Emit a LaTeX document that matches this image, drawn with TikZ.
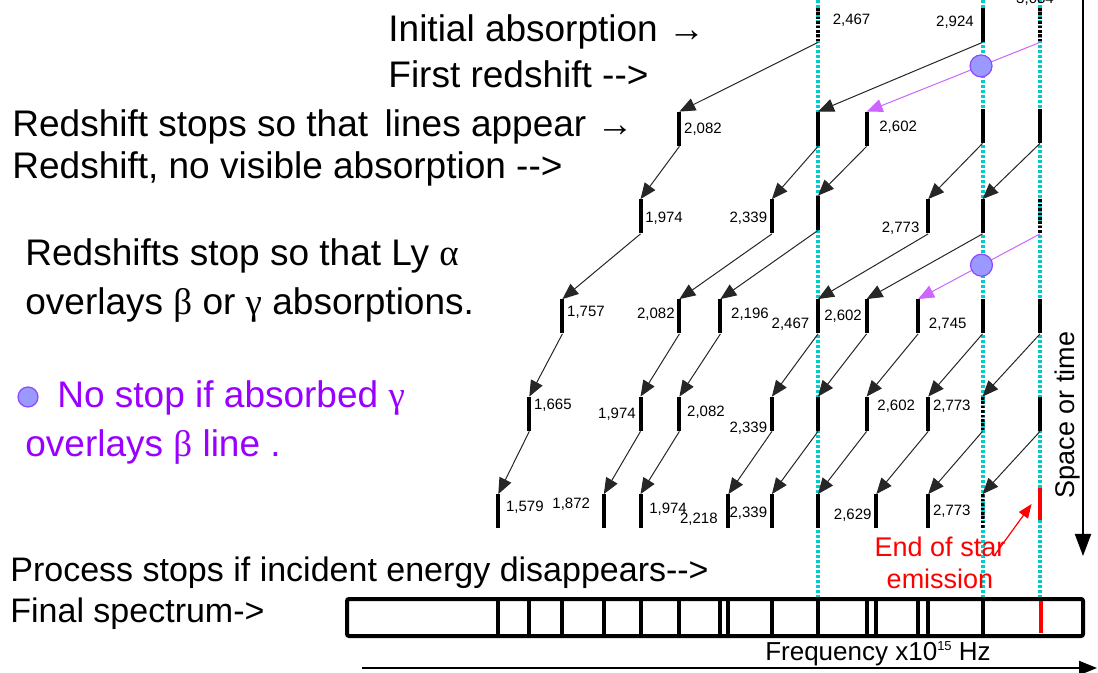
\documentclass[tikz,border=0pt]{standalone}
\usepackage{fontspec}
\setmainfont{Liberation Sans}
\newfontfamily\grk{Liberation Serif}
\usetikzlibrary{arrows.meta}

\definecolor{lycyan}{RGB}{0,204,204}
\definecolor{nostop}{RGB}{153,0,255}
\definecolor{shiftpurple}{RGB}{204,102,255}
\definecolor{dotblue}{RGB}{153,153,255}

\tikzset{
  bar/.style={fill=black, inner sep=0pt, minimum width=2pt, minimum height=17pt},
  dbar/.style={inner sep=0pt, minimum width=2pt, minimum height=17pt,
    path picture={\foreach \k in {0,...,7}
      \fill[black] ([yshift=-\k*2.2pt]path picture bounding box.north west) rectangle ++(2pt,-1.3pt);}},
  lbl/.style={font=\fontsize{7.5}{9}\selectfont, inner sep=1pt},
  txt/.style={font=\fontsize{18.5}{22}\selectfont, anchor=west, inner sep=0pt},
  zshift/.style={draw=black!85, line width=0.5pt, -{Triangle[length=8pt, width=6.5pt]}},
  pshift/.style={zshift, draw=shiftpurple, -{Triangle[length=8pt, width=6.5pt, fill=shiftpurple]}},
  gdot/.style={circle, fill=dotblue, draw=shiftpurple!70!blue, line width=0.6pt, minimum size=11pt, inner sep=0pt},
  lyline/.style={lycyan, line width=2pt, dash pattern=on 1.5pt off 1pt},
  specline/.style={line width=2pt}
}

\begin{document}
\begin{tikzpicture}[x=0.5pt, y=-0.5pt]
  \useasboundingbox (0,0) rectangle (1098,673);

  % Lyman alpha, beta, gamma
  \foreach \x in {818, 982.5, 1040}
    \draw[lyline] (\x,0) -- (\x,597);

  % texts on the left
  \node[txt] (tInit) at (388,32) {Initial absorption →};
  \node[txt] (tFirst) at (388,74) {First redshift -\kern0pt->};
  \node[txt] (tStops) at (12,127) {Redshift stops so that\ \kern-2pt\ lines appear →};
  \node[txt] (tNoAbs) at (12,169) {Redshift, no visible absorption -\kern0pt->};
  \node[txt] (tLy1) at (25,256) {Redshifts stop so that Ly {\grk α}};
  \node[txt] (tLy2) at (25,305) {overlays {\grk β} or {\grk γ} absorptions.};
  \node[gdot, minimum size=10pt] (legdot) at (28,397) {};
  \node[txt, text=nostop] (tNo1) at (57,398) {No stop if absorbed {\grk γ}};
  \node[txt, text=nostop] (tNo2) at (25,447) {overlays {\grk β} line .};
  \node[txt, font=\fontsize{17}{20}\selectfont] (tProc) at (10,573) {Process stops if incident energy disappears-\kern0pt->};
  \node[txt, font=\fontsize{17}{20}\selectfont] (tFinal) at (10,614) {Final spectrum->};

  % row 0
  \node[dbar, label={[lbl, xshift=5pt, yshift=2.5pt]right:{2,467}}] (r0a) at (818,25) {};
  \node[bar, label={[lbl, xshift=-2pt, yshift=1.5pt]left:{2,924}}] (r0b) at (982.5,25) {};
  \node[dbar, label={[lbl, xshift=-2.5pt]above:{3,084}}] (r0g) at (1040,25) {};

  % row 1
  \node[bar, label={[lbl]right:{2,082}}] (r1-2082) at (679.4,129) {};
  \node[bar] (r1a) at (818,129) {};
  \node[bar, label={[lbl, xshift=4pt, yshift=1pt]right:{2,602}}] (r1-2602) at (866.6,129) {};
  \node[bar] (r1b) at (982.5,126) {};
  \node[bar] (r1g) at (1040,126) {};

  % row 2
  \node[bar, label={[lbl, yshift=-1pt]right:{1,974}}] (r2-1974) at (640.5,216.5) {};
  \node[bar, label={[lbl, yshift=-1pt]left:{2,339}}] (r2-2339) at (771.9,216.5) {};
  \node[bar] (r2a) at (818,213) {};
  \node[bar, label={[lbl, xshift=-2pt, yshift=-6pt]left:{2,773}}] (r2-2773) at (928.2,216.5) {};
  \node[bar] (r2b) at (982.5,216.5) {};
  \node[dbar] (r2g) at (1040,216.5) {};

  % row 3
  \node[bar, label={[lbl, yshift=2pt]right:{1,757}}] (r3-1757) at (562.4,316.5) {};
  \node[bar, label={[lbl, yshift=1pt]left:{2,082}}] (r3-2082) at (679.4,316.5) {};
  \node[bar, label={[lbl, xshift=3pt, yshift=1pt]right:{2,196}}] (r3-2196) at (720.4,316.5) {};
  \node[bar, label={[lbl, xshift=-2pt, yshift=-4pt]left:{2,467}}] (r3a) at (818,316.5) {};
  \node[bar, label={[lbl]left:{2,602}}] (r3-2602) at (866.6,316.5) {};
  \node[bar, label={[lbl, xshift=3pt, yshift=-4pt]right:{2,745}}] (r3-2745) at (918.1,316.5) {};
  \node[bar] (r3b) at (982.5,316.5) {};
  \node[bar] (r3g) at (1040,316.5) {};

  % row 4
  \node[bar, label={[lbl, yshift=4.5pt]right:{1,665}}] (r4-1665) at (529.3,414) {};
  \node[bar, label={[lbl]left:{1,974}}] (r4-1974) at (640.5,414) {};
  \node[bar, label={[lbl, xshift=1.5pt, yshift=1pt]right:{2,082}}] (r4-2082) at (679.4,414) {};
  \node[bar, label={[lbl, yshift=-7pt]left:{2,339}}] (r4-2339) at (771.9,414) {};
  \node[bar] (r4a) at (818,414) {};
  \node[bar, label={[lbl, xshift=3pt, yshift=4pt]right:{2,602}}] (r4-2602) at (866.6,414) {};
  \node[bar, label={[lbl, yshift=4pt]right:{2,773}}] (r4-2773) at (928.2,414) {};
  \node[dbar] (r4b) at (982.5,414) {};
  \node[bar] (r4g) at (1040,414) {};

  % row 5
  \node[bar, label={[lbl, xshift=1.5pt, yshift=2pt]right:{1,579}}] (r5-1579) at (498.3,511.5) {};
  \node[bar, label={[lbl, xshift=-4.5pt, yshift=3.5pt]left:{1,872}}] (r5-1872) at (603.8,511.5) {};
  \node[bar, label={[lbl, xshift=2pt, yshift=1pt]right:{1,974}}] (r5-1974) at (640.5,511.5) {};
  \node[bar, label={[lbl, xshift=-3pt, yshift=-4pt]left:{2,218}}] (r5-2218) at (728.4,511.5) {};
  \node[bar, label={[lbl, yshift=-1pt]left:{2,339}}] (r5-2339) at (771.9,511.5) {};
  \node[bar] (r5a) at (818,511.5) {};
  \node[bar, label={[lbl, yshift=-2pt]left:{2,629}}] (r5-2629) at (876.3,511.5) {};
  \node[bar, label={[lbl]right:{2,773}}] (r5-2773) at (928.2,511.5) {};
  \node[dbar] (r5b) at (982.5,511.5) {};
  \node[bar, fill=red, minimum height=16pt] (r5g) at (1040,504) {};

  % redshifts
  \draw[zshift] (r0a.south) -- (r1-2082.north);
  \draw[zshift] (r0b.south) -- (r1a.north);
  \draw[pshift] (r0g.south) -- node[gdot, pos=0.34] (dot1) {} (r1-2602.north);

  \draw[zshift] (r1-2082.south) -- (r2-1974.north);
  \draw[zshift] (r1a.south) -- (r2-2339.north);
  \draw[zshift] (r1-2602.south) -- (r2a.north);
  \draw[zshift] (r1b.south) -- (r2-2773.north);
  \draw[zshift] (r1g.south) -- (r2b.north);

  \draw[zshift] (r2-1974.south) -- (r3-1757.north);
  \draw[zshift] (r2-2339.south) -- (r3-2082.north);
  \draw[zshift] (r2a.south) -- (r3-2196.north);
  \draw[zshift] (r2-2773.south) -- (r3a.north);
  \draw[zshift] (r2b.south) -- (r3-2602.north);
  \draw[pshift] (r2g.south) -- node[gdot, pos=0.48] (dot2) {} (r3-2745.north);

  \draw[zshift] (r3-1757.south) -- (r4-1665.north);
  \draw[zshift] (r3-2082.south) -- (r4-1974.north);
  \draw[zshift] (r3-2196.south) -- (r4-2082.north);
  \draw[zshift] (r3a.south) -- (r4-2339.north);
  \draw[zshift] (r3-2602.south) -- (r4a.north);
  \draw[zshift] (r3-2745.south) -- (r4-2602.north);
  \draw[zshift] (r3b.south) -- (r4-2773.north);
  \draw[zshift] (r3g.south) -- (r4b.north);

  \draw[zshift] (r4-1665.south) -- (r5-1579.north);
  \draw[zshift] (r4-1974.south) -- (r5-1872.north);
  \draw[zshift] (r4-2082.south) -- (r5-1974.north);
  \draw[zshift] (r4-2339.south) -- (r5-2218.north);
  \draw[zshift] (r4a.south) -- (r5-2339.north);
  \draw[zshift] (r4-2602.south) -- (r5a.north);
  \draw[zshift] (r4-2773.south) -- (r5-2629.north);
  \draw[zshift] (r4b.south) -- (r5-2773.north);
  \draw[zshift] (r4g.south) -- (r5b.north);

  % end of star emission
  \node[font=\fontsize{13.5}{16}\selectfont, text=red, align=center, inner sep=0pt] (endstar) at (940,563) {End of star\\emission};
  \coordinate (endtail) at (994,556);
  \draw[red, line width=0.6pt, -{Triangle[length=7pt, width=5.5pt]}] (endtail) -- ([xshift=-3pt]r5g.west);

  % space or time
  \coordinate (st0) at (1083,0);
  \coordinate (st1) at (1083,556);
  \draw[line width=1pt, -{Triangle[length=11pt, width=8pt]}] (st0) -- (st1);
  \node[rotate=90, font=\fontsize{13.5}{16}\selectfont] (stlabel) at (1068,415) {Space or time};

  % final spectrum
  \node[draw, line width=2pt, rounded corners=1pt, minimum width=368pt, minimum height=18.5pt, inner sep=0pt] (spec) at (715,617.5) {};
  \foreach \f in {1.579,1.665,1.757,1.872,1.974,2.082,2.196,2.218,2.339,2.467,2.602,2.629,2.745,2.773,2.924}
    \draw[specline] ({818+360*(\f-2.467)},599) -- ++(0,37);
  \draw[specline, red] (1041,601) -- ++(0,32);

  % frequency axis
  \coordinate (f0) at (362,668);
  \coordinate (f1) at (1097,668);
  \draw[line width=1pt, -{Triangle[length=9pt, width=7pt]}] (f0) -- (f1);
  \node[font=\fontsize{13}{15}\selectfont] (freq) at (878,654) {Frequency x10\raisebox{0.7ex}{\fontsize{6.5}{7}\selectfont 15} Hz};
\end{tikzpicture}
\end{document}
